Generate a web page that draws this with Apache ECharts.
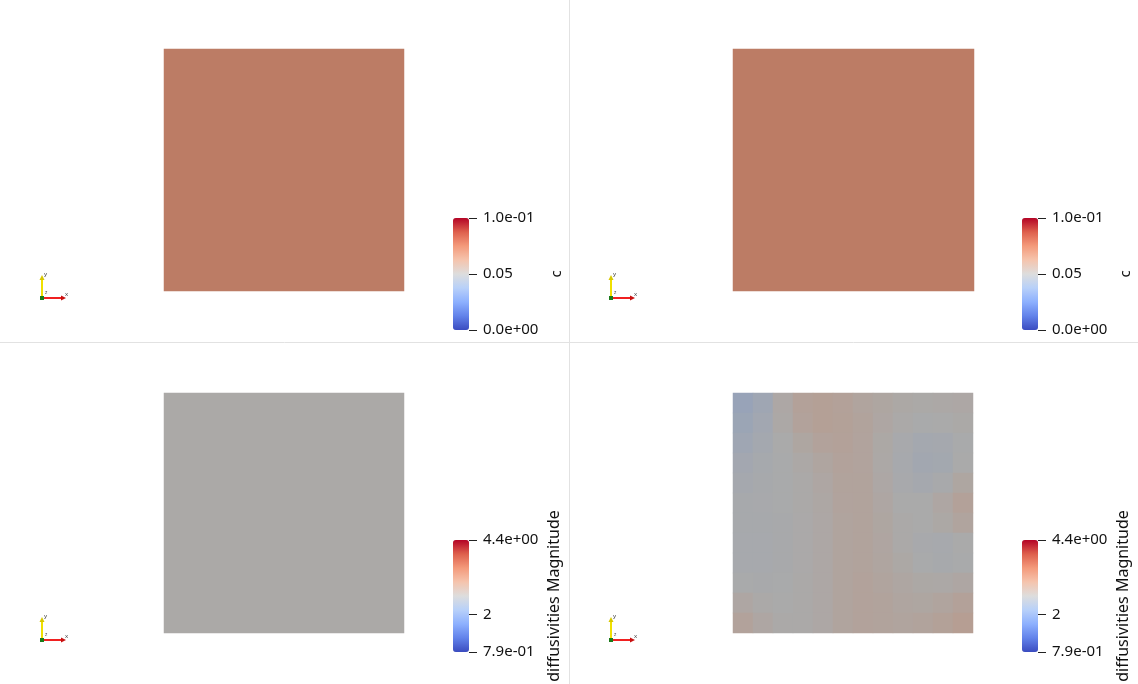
<!DOCTYPE html>
<html>
<head>
<meta charset="utf-8">
<title>c / diffusivities</title>
<script src="https://cdn.jsdelivr.net/npm/echarts@6/dist/echarts.min.js"></script>
<style>
    html, body {margin: 0; padding: 0; background: #fff;}
    #main {width: 1138px; height: 684px;}
</style>
</head>
<body>
<div id="main"></div>
<script>
// 数据
var cRange = [0, 0.1];
var cTicks = [0, 0.05, 0.1];
var cTickLabels = ['0.0e+00', '0.05', '1.0e-01'];
var cLeft = 0.073;
var cRight = 0.073;

var diffRange = [0.79, 4.4];
var diffTicks = [0.79, 2, 4.4];
var diffTickLabels = ['7.9e-01', '2', '4.4e+00'];
var diffLeft = 2.63;
// 右下角 12x12，从上到下每行
var diffRightRows = [
    [2.30, 2.42, 2.66, 2.80, 2.84, 2.80, 2.74, 2.70, 2.65, 2.63, 2.64, 2.66],
    [2.36, 2.46, 2.64, 2.78, 2.84, 2.82, 2.76, 2.68, 2.62, 2.58, 2.60, 2.63],
    [2.42, 2.50, 2.60, 2.70, 2.78, 2.80, 2.75, 2.65, 2.56, 2.50, 2.52, 2.58],
    [2.48, 2.53, 2.58, 2.64, 2.72, 2.78, 2.75, 2.64, 2.54, 2.47, 2.49, 2.60],
    [2.52, 2.55, 2.58, 2.62, 2.68, 2.76, 2.76, 2.66, 2.56, 2.52, 2.57, 2.70],
    [2.55, 2.56, 2.58, 2.62, 2.67, 2.75, 2.77, 2.68, 2.60, 2.60, 2.68, 2.80],
    [2.55, 2.55, 2.57, 2.61, 2.66, 2.74, 2.77, 2.70, 2.62, 2.60, 2.65, 2.74],
    [2.54, 2.54, 2.57, 2.61, 2.66, 2.74, 2.77, 2.71, 2.62, 2.56, 2.54, 2.60],
    [2.54, 2.54, 2.57, 2.61, 2.66, 2.74, 2.77, 2.72, 2.65, 2.58, 2.55, 2.58],
    [2.58, 2.57, 2.58, 2.62, 2.66, 2.74, 2.78, 2.74, 2.69, 2.65, 2.64, 2.68],
    [2.68, 2.62, 2.60, 2.62, 2.66, 2.74, 2.78, 2.76, 2.72, 2.70, 2.74, 2.80],
    [2.78, 2.68, 2.62, 2.62, 2.66, 2.74, 2.78, 2.76, 2.74, 2.76, 2.82, 2.88]
];

// coolwarm
var coolwarm = [
    [59, 76, 192], [98, 130, 234], [141, 176, 254], [184, 208, 249], [221, 221, 221],
    [245, 196, 173], [244, 154, 123], [222, 96, 77], [180, 4, 38]
];
var shade = 0.77;

function rgb(c, k) {
    return 'rgb(' + Math.round(c[0] * k) + ',' + Math.round(c[1] * k) + ',' + Math.round(c[2] * k) + ')';
}
var barColors = coolwarm.map(function (c) { return rgb(c, 1); });
var surfColors = coolwarm.map(function (c) { return rgb(c, shade); });

var font = 'Noto Sans';

// 面板位置
var panels = [
    {left: 164, top: 49, w: 240, h: 242, bar: {left: 453, top: 218}, name: 'c'},
    {left: 733, top: 49, w: 241, h: 242, bar: {left: 1022, top: 218}, name: 'c'},
    {left: 164, top: 393, w: 240, h: 240, bar: {left: 453, top: 540}, name: 'diffusivities Magnitude'},
    {left: 733, top: 393, w: 240, h: 240, bar: {left: 1022, top: 540}, name: 'diffusivities Magnitude'}
];
var triads = [[42, 298], [611, 298], [42, 640], [611, 640]];

function labelFor(ticks, labels) {
    return function (v) {
        for (var i = 0; i < ticks.length; i++) {
            if (Math.abs(v - ticks[i]) < 1e-9) return labels[i];
        }
        return '';
    };
}

var grid = [], xAxis = [], yAxis = [], series = [], visualMap = [], graphic = [];

// 表面
var surfaces = [
    {rows: [[cLeft]]},
    {rows: [[cRight]]},
    {rows: [[diffLeft]]},
    {rows: diffRightRows}
];
surfaces.forEach(function (s, i) {
    var p = panels[i];
    grid.push({left: p.left, top: p.top, width: p.w, height: p.h});
    var nx = s.rows[0].length, ny = s.rows.length;
    var xs = [], ys = [], data = [];
    for (var a = 0; a < nx; a++) xs.push(a);
    for (var b = 0; b < ny; b++) ys.push(b);
    s.rows.forEach(function (row, r) {
        row.forEach(function (v, c) { data.push([c, r, v]); });
    });
    xAxis.push({type: 'category', gridIndex: i, data: xs, show: false});
    yAxis.push({type: 'category', gridIndex: i, data: ys, show: false, inverse: true});
    series.push({
        type: 'heatmap',
        xAxisIndex: i,
        yAxisIndex: i,
        data: data,
        emphasis: {disabled: true}
    });
});

// 表面颜色（带光照）
visualMap.push({show: false, min: cRange[0], max: cRange[1], seriesIndex: [0, 1], inRange: {color: surfColors}});
visualMap.push({show: false, min: diffRange[0], max: diffRange[1], seriesIndex: [2, 3], inRange: {color: surfColors}});

// 色标
panels.forEach(function (p, i) {
    var isC = i < 2;
    var range = isC ? cRange : diffRange;
    var ticks = isC ? cTicks : diffTicks;
    var labels = isC ? cTickLabels : diffTickLabels;
    var gi = 4 + i;
    grid.push({left: p.bar.left, top: p.bar.top, width: 16, height: 112});
    xAxis.push({type: 'category', gridIndex: gi, data: ['a'], show: false});
    yAxis.push({
        type: 'value',
        gridIndex: gi,
        position: 'right',
        min: range[0],
        max: range[1],
        name: p.name,
        nameLocation: 'middle',
        nameRotate: 90,
        nameGap: isC ? 80 : 77,
        nameTextStyle: {color: '#111', fontSize: isC ? 15 : 16, fontFamily: font},
        axisLine: {show: false, onZero: false},
        splitLine: {show: false},
        axisTick: {show: true, inside: false, length: 8, customValues: ticks, lineStyle: {color: '#222', width: 1}},
        axisLabel: {
            customValues: ticks,
            margin: 14,
            color: '#111',
            fontSize: 15,
            fontFamily: font,
            showMinLabel: true,
            showMaxLabel: true,
            formatter: labelFor(ticks, labels)
        },
        z: 10
    });
    visualMap.push({
        type: 'continuous',
        seriesIndex: [],
        min: range[0],
        max: range[1],
        left: p.bar.left,
        top: p.bar.top,
        padding: 0,
        itemWidth: 16,
        itemHeight: 112,
        calculable: false,
        hoverLink: false,
        text: null,
        inRange: {color: barColors}
    });
});

// 分隔线
graphic.push({type: 'line', shape: {x1: 569.5, y1: 0, x2: 569.5, y2: 684}, style: {stroke: '#e2e2e2', lineWidth: 1}, silent: true});
graphic.push({type: 'line', shape: {x1: 0, y1: 342.5, x2: 1138, y2: 342.5}, style: {stroke: '#e2e2e2', lineWidth: 1}, silent: true});

// 坐标轴指示
triads.forEach(function (t) {
    var x = t[0], y = t[1];
    graphic.push({type: 'line', shape: {x1: x, y1: y, x2: x, y2: y - 19}, style: {stroke: '#f0e000', lineWidth: 2}, silent: true});
    graphic.push({type: 'polygon', shape: {points: [[x - 2.5, y - 18], [x + 2.5, y - 18], [x, y - 23]]}, style: {fill: '#d8c800'}, silent: true});
    graphic.push({type: 'line', shape: {x1: x, y1: y, x2: x + 20, y2: y}, style: {stroke: '#f02020', lineWidth: 2}, silent: true});
    graphic.push({type: 'polygon', shape: {points: [[x + 19, y - 2.5], [x + 19, y + 2.5], [x + 24, y]]}, style: {fill: '#c81010'}, silent: true});
    graphic.push({type: 'rect', shape: {x: x - 2, y: y - 2, width: 4, height: 4}, style: {fill: '#1a7a1a'}, silent: true});
    graphic.push({type: 'text', x: x + 2, y: y - 27, style: {text: 'y', fontSize: 6, fill: '#444', fontFamily: font}, silent: true});
    graphic.push({type: 'text', x: x + 23, y: y - 7, style: {text: 'x', fontSize: 6, fill: '#444', fontFamily: font}, silent: true});
    graphic.push({type: 'text', x: x + 3, y: y - 8, style: {text: 'z', fontSize: 5, fill: '#444', fontFamily: font}, silent: true});
});

var myChart = echarts.init(document.getElementById('main'));
var option = {
    animation: false,
    backgroundColor: '#fff',
    grid: grid,
    xAxis: xAxis,
    yAxis: yAxis,
    visualMap: visualMap,
    series: series,
    graphic: graphic
};
myChart.setOption(option);
</script>
</body>
</html>
